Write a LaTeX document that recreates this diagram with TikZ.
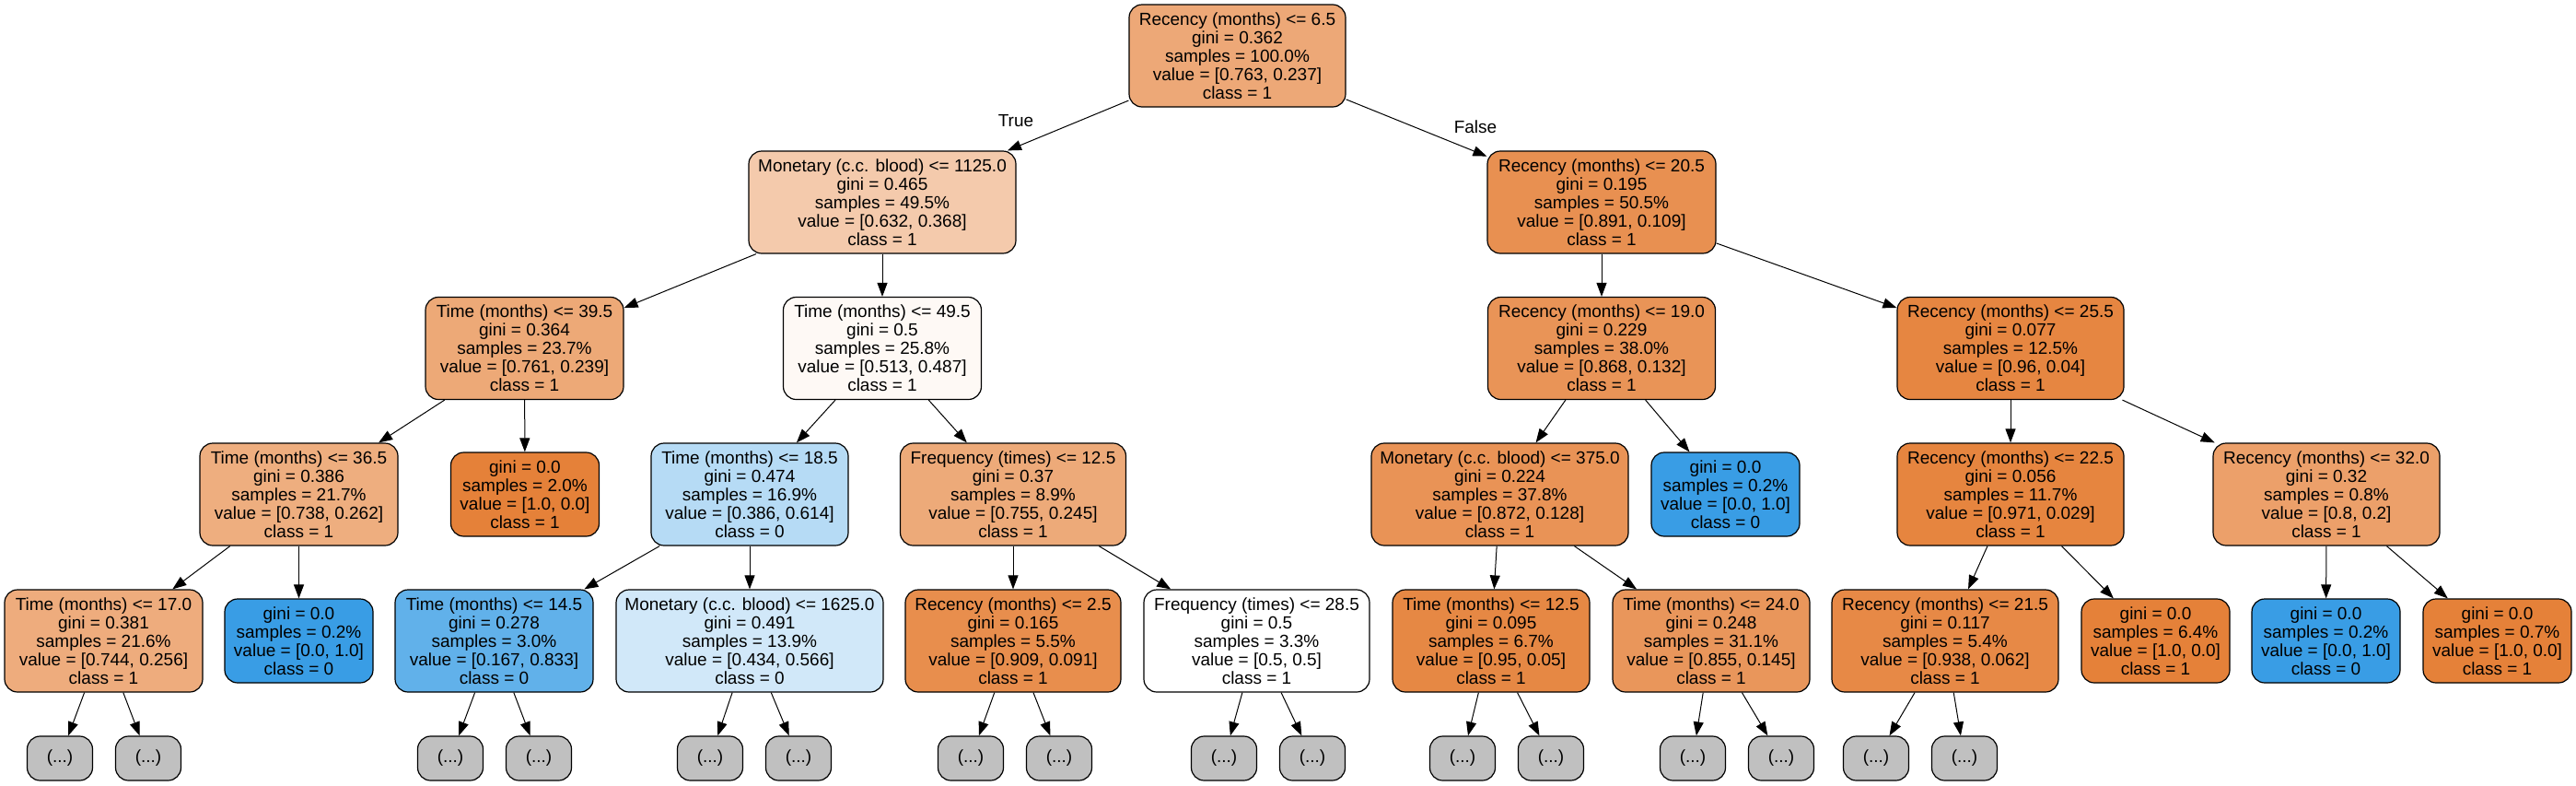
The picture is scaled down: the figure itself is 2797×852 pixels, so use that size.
\documentclass[tikz,border=0pt]{standalone}
\usepackage{fontspec}
\setmainfont{Liberation Sans}
\usetikzlibrary{arrows.meta}
\definecolor{cRoot}{RGB}{237,168,119}
\definecolor{cMonA}{RGB}{244,202,172}
\definecolor{cRecA}{RGB}{232,144,81}
\definecolor{cTimA}{RGB}{237,169,119}
\definecolor{cTimB}{RGB}{254,249,245}
\definecolor{cRecB}{RGB}{233,148,87}
\definecolor{cRecC}{RGB}{230,134,65}
\definecolor{cTimC}{RGB}{238,174,127}
\definecolor{cOr}{RGB}{229,129,57}
\definecolor{cBl}{RGB}{57,157,229}
\definecolor{cTimD}{RGB}{182,219,245}
\definecolor{cFreA}{RGB}{237,170,121}
\definecolor{cMonB}{RGB}{233,147,86}
\definecolor{cRecD}{RGB}{230,133,63}
\definecolor{cRecE}{RGB}{236,160,106}
\definecolor{cTimE}{RGB}{238,172,125}
\definecolor{cTimF}{RGB}{97,177,234}
\definecolor{cMonC}{RGB}{209,232,249}
\definecolor{cRecF}{RGB}{232,142,77}
\definecolor{cTimG}{RGB}{230,136,68}
\definecolor{cTimH}{RGB}{233,150,91}
\definecolor{cRecG}{RGB}{231,137,70}
\definecolor{cGray}{RGB}{192,192,192}
\tikzset{
  tn/.style={draw=black, line width=1.2pt, rounded corners=14pt, align=center,
    font=\fontsize{19}{20}\selectfont, minimum height=111pt, inner sep=0pt},
  lf/.style={tn, minimum height=91pt, minimum width=161pt},
  dots/.style={tn, fill=cGray, minimum height=48pt, minimum width=71pt},
  edge/.style={draw=black, line width=1pt, -{Triangle[length=15pt,width=11pt]}},
  lbl/.style={font=\fontsize{19}{20}\selectfont}
}
\begin{document}
\begin{tikzpicture}[x=1pt,y=-1pt]
\useasboundingbox (0,0) rectangle (2797,852);
\fill[white] (0,0) rectangle (2797,852);
% level 0
\node[tn, fill=cRoot, minimum width=235pt] (root) at (1343.5,60.5) {Recency (months) <= 6.5\\gini = 0.362\\samples = 100.0\%\\value = [0.763, 0.237]\\class = 1};
% level 1
\node[tn, fill=cMonA, minimum width=290pt] (mon1) at (958,219.5) {Monetary (c.c. blood) <= 1125.0\\gini = 0.465\\samples = 49.5\%\\value = [0.632, 0.368]\\class = 1};
\node[tn, fill=cRecA, minimum width=248pt] (rec20) at (1739,219.5) {Recency (months) <= 20.5\\gini = 0.195\\samples = 50.5\%\\value = [0.891, 0.109]\\class = 1};
% level 2
\node[tn, fill=cTimA, minimum width=215pt] (t39) at (569.5,378) {Time (months) <= 39.5\\gini = 0.364\\samples = 23.7\%\\value = [0.761, 0.239]\\class = 1};
\node[tn, fill=cTimB, minimum width=215pt] (t49) at (958,378) {Time (months) <= 49.5\\gini = 0.5\\samples = 25.8\%\\value = [0.513, 0.487]\\class = 1};
\node[tn, fill=cRecB, minimum width=247pt] (rec19) at (1739,378) {Recency (months) <= 19.0\\gini = 0.229\\samples = 38.0\%\\value = [0.868, 0.132]\\class = 1};
\node[tn, fill=cRecC, minimum width=246pt] (rec25) at (2183,378) {Recency (months) <= 25.5\\gini = 0.077\\samples = 12.5\%\\value = [0.96, 0.04]\\class = 1};
% level 3
\node[tn, fill=cTimC, minimum width=215pt] (t36) at (324.5,536.5) {Time (months) <= 36.5\\gini = 0.386\\samples = 21.7\%\\value = [0.738, 0.262]\\class = 1};
\node[lf, fill=cOr] (leafA) at (570,536.5) {gini = 0.0\\samples = 2.0\%\\value = [1.0, 0.0]\\class = 1};
\node[tn, fill=cTimD, minimum width=214pt] (t18) at (814,536.5) {Time (months) <= 18.5\\gini = 0.474\\samples = 16.9\%\\value = [0.386, 0.614]\\class = 0};
\node[tn, fill=cFreA, minimum width=245pt] (f12) at (1100,536.5) {Frequency (times) <= 12.5\\gini = 0.37\\samples = 8.9\%\\value = [0.755, 0.245]\\class = 1};
\node[tn, fill=cMonB, minimum width=279pt] (m375) at (1628.5,536.5) {Monetary (c.c. blood) <= 375.0\\gini = 0.224\\samples = 37.8\%\\value = [0.872, 0.128]\\class = 1};
\node[lf, fill=cBl] (leafB) at (1873.5,536.5) {gini = 0.0\\samples = 0.2\%\\value = [0.0, 1.0]\\class = 0};
\node[tn, fill=cRecD, minimum width=246pt] (rec22) at (2183,536.5) {Recency (months) <= 22.5\\gini = 0.056\\samples = 11.7\%\\value = [0.971, 0.029]\\class = 1};
\node[tn, fill=cRecE, minimum width=246pt] (rec32) at (2526,536.5) {Recency (months) <= 32.0\\gini = 0.32\\samples = 0.8\%\\value = [0.8, 0.2]\\class = 1};
% level 4
\node[tn, fill=cTimE, minimum width=215pt] (t17) at (112.5,695.5) {Time (months) <= 17.0\\gini = 0.381\\samples = 21.6\%\\value = [0.744, 0.256]\\class = 1};
\node[lf, fill=cBl] (leafC) at (324.5,695.5) {gini = 0.0\\samples = 0.2\%\\value = [0.0, 1.0]\\class = 0};
\node[tn, fill=cTimF, minimum width=215pt] (t14) at (536.5,695.5) {Time (months) <= 14.5\\gini = 0.278\\samples = 3.0\%\\value = [0.167, 0.833]\\class = 0};
\node[tn, fill=cMonC, minimum width=290pt] (m1625) at (814,695.5) {Monetary (c.c. blood) <= 1625.0\\gini = 0.491\\samples = 13.9\%\\value = [0.434, 0.566]\\class = 0};
\node[tn, fill=cRecF, minimum width=234pt] (rec2) at (1100,695.5) {Recency (months) <= 2.5\\gini = 0.165\\samples = 5.5\%\\value = [0.909, 0.091]\\class = 1};
\node[tn, fill=white, minimum width=245pt] (f28) at (1364.5,695.5) {Frequency (times) <= 28.5\\gini = 0.5\\samples = 3.3\%\\value = [0.5, 0.5]\\class = 1};
\node[tn, fill=cTimG, minimum width=214pt] (t12) at (1619,695.5) {Time (months) <= 12.5\\gini = 0.095\\samples = 6.7\%\\value = [0.95, 0.05]\\class = 1};
\node[tn, fill=cTimH, minimum width=214pt] (t24) at (1858,695.5) {Time (months) <= 24.0\\gini = 0.248\\samples = 31.1\%\\value = [0.855, 0.145]\\class = 1};
\node[tn, fill=cRecG, minimum width=246pt] (rec21) at (2112,695.5) {Recency (months) <= 21.5\\gini = 0.117\\samples = 5.4\%\\value = [0.938, 0.062]\\class = 1};
\node[lf, fill=cOr] (leafD) at (2340.5,695.5) {gini = 0.0\\samples = 6.4\%\\value = [1.0, 0.0]\\class = 1};
\node[lf, fill=cBl] (leafE) at (2525.5,695.5) {gini = 0.0\\samples = 0.2\%\\value = [0.0, 1.0]\\class = 0};
\node[lf, fill=cOr] (leafF) at (2711.5,695.5) {gini = 0.0\\samples = 0.7\%\\value = [1.0, 0.0]\\class = 1};
% level 5
\node[dots] (d1) at (65,823) {(...)};
\node[dots] (d2) at (161,823) {(...)};
\node[dots] (d3) at (489,823) {(...)};
\node[dots] (d4) at (585,823) {(...)};
\node[dots] (d5) at (771,823) {(...)};
\node[dots] (d6) at (867,823) {(...)};
\node[dots] (d7) at (1054,823) {(...)};
\node[dots] (d8) at (1150,823) {(...)};
\node[dots] (d9) at (1329,823) {(...)};
\node[dots] (d10) at (1425,823) {(...)};
\node[dots] (d11) at (1588,823) {(...)};
\node[dots] (d12) at (1684,823) {(...)};
\node[dots] (d13) at (1838,823) {(...)};
\node[dots] (d14) at (1934,823) {(...)};
\node[dots] (d15) at (2037,823) {(...)};
\node[dots] (d16) at (2133,823) {(...)};
% labels
\node[lbl] (ltrue) at (1103,131) {True};
\node[lbl] (lfalse) at (1602,138) {False};
% edges
\draw[edge] (root) -- (mon1);
\draw[edge] (root) -- (rec20);
\draw[edge] (mon1) -- (t39);
\draw[edge] (mon1) -- (t49);
\draw[edge] (rec20) -- (rec19);
\draw[edge] (rec20) -- (rec25);
\draw[edge] (t39) -- (t36);
\draw[edge] (t39) -- (leafA);
\draw[edge] (t49) -- (t18);
\draw[edge] (t49) -- (f12);
\draw[edge] (rec19) -- (m375);
\draw[edge] (rec19) -- (leafB);
\draw[edge] (rec25) -- (rec22);
\draw[edge] (rec25) -- (rec32);
\draw[edge] (t36) -- (t17);
\draw[edge] (t36) -- (leafC);
\draw[edge] (t18) -- (t14);
\draw[edge] (t18) -- (m1625);
\draw[edge] (f12) -- (rec2);
\draw[edge] (f12) -- (f28);
\draw[edge] (m375) -- (t12);
\draw[edge] (m375) -- (t24);
\draw[edge] (rec22) -- (rec21);
\draw[edge] (rec22) -- (leafD);
\draw[edge] (rec32) -- (leafE);
\draw[edge] (rec32) -- (leafF);
\draw[edge] (t17) -- (d1);
\draw[edge] (t17) -- (d2);
\draw[edge] (t14) -- (d3);
\draw[edge] (t14) -- (d4);
\draw[edge] (m1625) -- (d5);
\draw[edge] (m1625) -- (d6);
\draw[edge] (rec2) -- (d7);
\draw[edge] (rec2) -- (d8);
\draw[edge] (f28) -- (d9);
\draw[edge] (f28) -- (d10);
\draw[edge] (t12) -- (d11);
\draw[edge] (t12) -- (d12);
\draw[edge] (t24) -- (d13);
\draw[edge] (t24) -- (d14);
\draw[edge] (rec21) -- (d15);
\draw[edge] (rec21) -- (d16);
\end{tikzpicture}
\end{document}
